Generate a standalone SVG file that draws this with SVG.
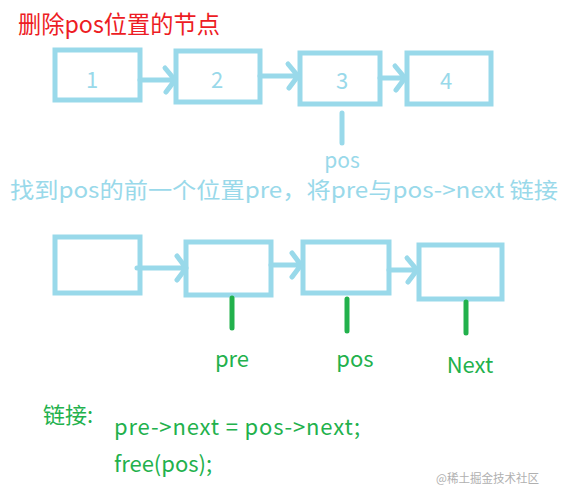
<svg xmlns="http://www.w3.org/2000/svg" width="587" height="500" viewBox="0 0 587 500">
<style>
.box{fill:none;stroke:#99d9ea;stroke-width:5}
.ln{fill:none;stroke:#99d9ea;stroke-width:5;stroke-linecap:round;stroke-linejoin:round}
.gl{stroke:#22b14c;stroke-width:5;stroke-linecap:round}
.t{font-family:"Noto Sans CJK SC","Noto Sans","Liberation Sans",sans-serif}
.num{fill:#99d9ea;font-size:22px;text-anchor:middle}
.blue{fill:#99d9ea}
.green{fill:#22b14c}
</style>
<rect width="587" height="500" fill="#fff"/>
<text class="t" x="18" y="33" font-size="24" fill="#ed1c24" textLength="202" lengthAdjust="spacingAndGlyphs">删除pos位置的节点</text>
<g id="n1"><rect class="box" x="55" y="50" width="85" height="50"/><text class="t num" x="92" y="88">1</text></g>
<g id="n2"><rect class="box" x="176" y="51" width="84" height="51"/><text class="t num" x="217" y="88">2</text></g>
<g id="n3"><rect class="box" x="300" y="53" width="80" height="51"/><text class="t num" x="342" y="89">3</text></g>
<g id="n4"><rect class="box" x="407" y="53" width="84" height="51"/><text class="t num" x="446" y="89">4</text></g>
<g id="pos1"><line class="ln" x1="342" y1="113" x2="342" y2="143"/><text class="t blue" x="342" y="168" font-size="21" text-anchor="middle">pos</text></g>
<text class="t blue" x="10" y="198" font-size="22" textLength="548" lengthAdjust="spacingAndGlyphs">找到pos的前一个位置pre，将pre与pos-&gt;next 链接</text>
<g id="m1"><rect class="box" x="55" y="237" width="85" height="56"/></g>
<g id="m2"><rect class="box" x="186" y="242" width="85" height="53"/></g>
<g id="m3"><rect class="box" x="303" y="242" width="86" height="51"/></g>
<g id="m4"><rect class="box" x="419" y="245" width="83" height="54"/></g>
<g id="connectors">
<path class="ln" d="M140 80 H175 M165 68 L175 80 L166 92"/>
<path class="ln" d="M260 76 H298 M288 64 L298 76 L289 88"/>
<path class="ln" d="M380 78 H405 M395 66 L405 78 L396 90"/>
<path class="ln" d="M137 268 H186 M177 256 L186 268 L177 280"/>
<path class="ln" d="M271 265 H301 M292 253 L301 265 L292 277"/>
<path class="ln" d="M389 270 H417 M407 258 L417 270 L408 282"/>
</g>
<g id="pre"><line class="gl" x1="232" y1="298" x2="232" y2="328"/><text class="t green" x="232" y="367" font-size="22" text-anchor="middle">pre</text></g>
<g id="pos2"><line class="gl" x1="347" y1="299" x2="347" y2="331"/><text class="t green" x="355" y="367" font-size="22" text-anchor="middle">pos</text></g>
<g id="next"><line class="gl" x1="466" y1="302" x2="466" y2="333"/><text class="t green" x="470" y="373" font-size="22" text-anchor="middle">Next</text></g>
<text class="t green" x="43" y="423" font-size="22">链接:</text>
<text class="t green" x="114" y="435" font-size="22" textLength="246" lengthAdjust="spacing">pre-&gt;next = pos-&gt;next;</text>
<text class="t green" x="114" y="472" font-size="22">free(pos);</text>
<text class="t" x="436" y="483" font-size="12" fill="#b0b0b0" textLength="103" lengthAdjust="spacingAndGlyphs">@稀土掘金技术社区</text>
</svg>
